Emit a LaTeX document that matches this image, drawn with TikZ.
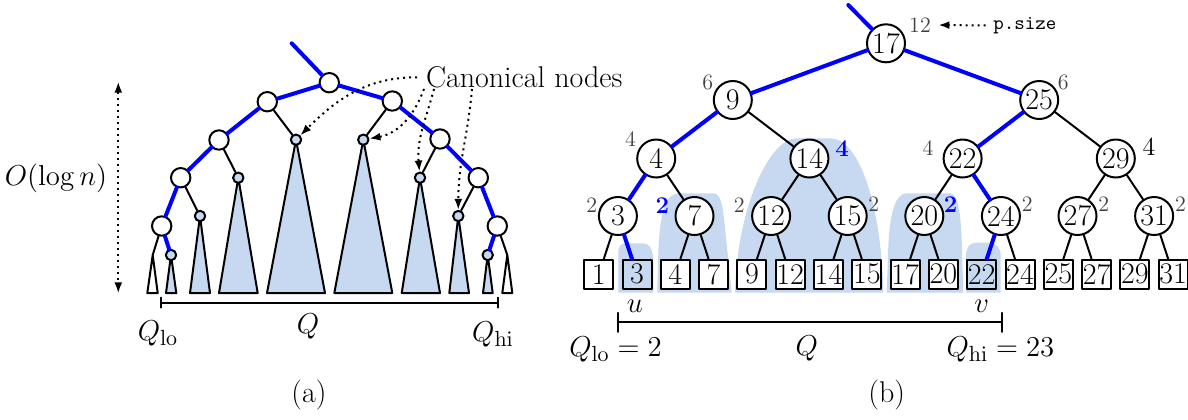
\documentclass[tikz,border=0pt]{standalone}
\usetikzlibrary{arrows.meta}
\definecolor{canonblue}{RGB}{198,217,240}
\begin{document}
\begin{tikzpicture}[x=.5pt,y=-.5pt,line width=1pt,>={Latex[length=5.5pt,width=4pt]},
  line cap=round,line join=round,
  font=\fontsize{15}{18}\selectfont,
  bignode/.style={circle,draw,fill=white,minimum size=9.7pt,inner sep=0pt},
  cannode/.style={circle,draw,fill=canonblue,minimum size=5.2pt,inner sep=0pt},
  subtree/.style={draw,fill=canonblue},
  opentree/.style={draw,fill=white},
  qpath/.style={draw=blue,line width=2pt},
  keynode/.style={circle,draw,fill=white,minimum size=19pt,inner sep=0pt},
  leafnode/.style={draw,fill=white,minimum size=14.5pt,inner sep=0pt},
  sizelbl/.style={text=black!75,font=\fontsize{11}{13}\selectfont},
  sizeq/.style={text=blue,font=\fontsize{12}{14}\selectfont\bfseries},
  pointer/.style={->,dotted,line cap=butt}]
\useasboundingbox (0,0) rectangle (1188,419);
\coordinate (atop) at (291.7,43.3);
\coordinate (awl) at (152.7,255);
\coordinate (awr) at (507.3,255);
\draw[subtree] (296,139.7) -- (267,293) -- (325,293) -- cycle;
\draw[subtree] (363.3,139.7) -- (334.3,293) -- (392.3,293) -- cycle;
\draw[subtree] (238.3,177.7) -- (219,293) -- (257.7,293) -- cycle;
\draw[subtree] (420,177.7) -- (401.7,293) -- (440,293) -- cycle;
\draw[subtree] (200,216) -- (190,293) -- (210,293) -- cycle;
\draw[subtree] (458.3,216) -- (449.3,293) -- (469,293) -- cycle;
\draw[subtree] (171,255) -- (166,293) -- (176.3,293) -- cycle;
\draw[subtree] (487.7,255) -- (483,293) -- (492.7,293) -- cycle;
\draw[opentree] (awl) -- (147.3,293) -- (157.7,293) -- cycle;
\draw[opentree] (awr) -- (502.3,293) -- (512.3,293) -- cycle;
\node[bignode] (aroot) at (329.3,82.7) {};
\node[bignode] (al1) at (267.3,101.7) {};
\node[bignode] (al2) at (219,140) {};
\node[bignode] (al3) at (180.7,177.7) {};
\node[bignode] (al4) at (161.7,226) {};
\node[bignode] (ar1) at (392.3,101) {};
\node[bignode] (ar2) at (440,139) {};
\node[bignode] (ar3) at (478.3,177.7) {};
\node[bignode] (ar4) at (497.3,226) {};
\node[cannode] (ac1) at (296,139.7) {};
\node[cannode] (ac2) at (363.3,139.7) {};
\node[cannode] (ac3) at (238.3,177.7) {};
\node[cannode] (ac4) at (420,177.7) {};
\node[cannode] (ac5) at (200,216) {};
\node[cannode] (ac6) at (458.3,216) {};
\node[cannode] (ac7) at (171,255) {};
\node[cannode] (ac8) at (487.7,255) {};
\draw (al1) -- (ac1);
\draw (ar1) -- (ac2);
\draw (al2) -- (ac3);
\draw (ar2) -- (ac4);
\draw (al3) -- (ac5);
\draw (ar3) -- (ac6);
\draw (al4) -- (awl);
\draw (ar4) -- (awr);
\draw[qpath] (atop) -- (aroot) -- (al1) -- (al2) -- (al3) -- (al4) -- (ac7);
\draw[qpath] (aroot) -- (ar1) -- (ar2) -- (ar3) -- (ar4) -- (ac8);
\node[anchor=base west,inner sep=0pt] (cantext) at (425,87.5) {Canonical nodes};
\draw[pointer] ([xshift=-4pt]cantext.west) to[out=180,in=45] (ac1);
\draw[pointer] ([xshift=-.5pt]cantext.south west) to[out=250,in=10] (ac2);
\draw[pointer] ([xshift=4.5pt]cantext.south west) to[out=255,in=95] (ac4);
\draw[pointer] ([xshift=23.5pt]cantext.south west) to[out=265,in=90] (ac6);
\coordinate (htop) at (118.3,81.7);
\coordinate (hbot) at (118.3,293.3);
\draw[<->,dotted,line cap=butt] (htop) -- (hbot);
\node (logn) at (56,178) {$O(\log n)$};
\coordinate (aqlo) at (161,302.7);
\coordinate (aqhi) at (497.7,302.7);
\draw (aqlo) -- (aqhi);
\draw ([yshift=2.5pt]aqlo) -- ([yshift=-2.5pt]aqlo);
\draw ([yshift=2.5pt]aqhi) -- ([yshift=-2.5pt]aqhi);
\node[anchor=base] (alo) at (158,340) {$Q_{\mathrm{lo}}$};
\node[anchor=base] (aq) at (308,333) {$Q$};
\node[anchor=base] (ahi) at (493,341) {$Q_{\mathrm{hi}}$};
\node (alabel) at (309,395) {(a)};
\begin{scope}[shift={(598.7,0)}]
  \fill[canonblue] (19.6,292.7) -- (19.6,253) .. controls (19.6,246) and (22,243.3) .. (28,243.3)
    -- (44,243.3) .. controls (51,243.3) and (54.6,250) .. (54.6,262) -- (54.6,292.7) -- cycle;
  \fill[canonblue] (58.6,292.7) -- (59.6,253) .. controls (61,215) and (66,193.3) .. (80,193.3)
    -- (114.6,193.3) .. controls (122,193.3) and (124,205) .. (126,225) -- (133,292.7) -- cycle;
  \fill[canonblue] (136.3,292.7) .. controls (138,210) and (170,138.3) .. (198,138.3)
    -- (231.3,138.3) .. controls (262,138.3) and (283,210) .. (284.6,292.7) -- cycle;
  \fill[canonblue] (288,292.7) -- (289.6,246.7) .. controls (291,215) and (296,193.3) .. (308,193.3)
    -- (351.3,193.3) .. controls (359,193.3) and (362,212) .. (363,240) -- (364.6,292.7) -- cycle;
  \fill[canonblue] (367.3,292.7) -- (367.3,256) .. controls (367.3,247) and (371,242.7) .. (378,242.7)
    -- (391,242.7) .. controls (398,242.7) and (402,248) .. (402,257) -- (402,292.7) -- cycle;
  \coordinate (btop) at (249.6,5);
  \node[keynode] (n17) at (287.3,43.3) {17};
  \node[keynode] (n9) at (134.1,100) {9};
  \node[keynode] (n25) at (440.5,100) {25};
  \node[keynode] (n4) at (57.5,158.5) {4};
  \node[keynode] (n14) at (210.7,158.5) {14};
  \node[keynode] (n22) at (363.9,158.5) {22};
  \node[keynode] (n29) at (517.1,158.5) {29};
  \node[keynode] (n3) at (19.2,216) {3};
  \node[keynode] (n7) at (95.8,216) {7};
  \node[keynode] (n12) at (172.4,216) {12};
  \node[keynode] (n15) at (249,216) {15};
  \node[keynode] (n20) at (325.6,216) {20};
  \node[keynode] (n24) at (402.2,216) {24};
  \node[keynode] (n27) at (478.8,216) {27};
  \node[keynode] (n31) at (555.4,216) {31};
  \node[leafnode] (k1) at (0,274.3) {1};
  \node[leafnode,fill=none] (k3) at (38.3,274.3) {3};
  \node[leafnode] (k4) at (76.6,274.3) {4};
  \node[leafnode] (k7) at (114.9,274.3) {7};
  \node[leafnode] (k9) at (153.2,274.3) {9};
  \node[leafnode] (k12) at (191.5,274.3) {12};
  \node[leafnode] (k14) at (229.8,274.3) {14};
  \node[leafnode] (k15) at (268.1,274.3) {15};
  \node[leafnode] (k17) at (306.4,274.3) {17};
  \node[leafnode] (k20) at (344.7,274.3) {20};
  \node[leafnode,fill=none] (k22) at (383,274.3) {22};
  \node[leafnode] (k24) at (421.3,274.3) {24};
  \node[leafnode] (k25) at (459.6,274.3) {25};
  \node[leafnode] (k27) at (497.9,274.3) {27};
  \node[leafnode] (k29) at (536.2,274.3) {29};
  \node[leafnode] (k31) at (574.5,274.3) {31};
  \draw (n9) -- (n14);
  \draw (n25) -- (n29);
  \draw (n4) -- (n7);
  \draw (n14) -- (n12);
  \draw (n14) -- (n15);
  \draw (n22) -- (n20);
  \draw (n29) -- (n27);
  \draw (n29) -- (n31);
  \draw (n3) -- (k1);
  \draw (n7) -- (k4);
  \draw (n7) -- (k7);
  \draw (n12) -- (k9);
  \draw (n12) -- (k12);
  \draw (n15) -- (k14);
  \draw (n15) -- (k15);
  \draw (n20) -- (k17);
  \draw (n20) -- (k20);
  \draw (n24) -- (k24);
  \draw (n27) -- (k25);
  \draw (n27) -- (k27);
  \draw (n31) -- (k29);
  \draw (n31) -- (k31);
  \draw[qpath] (btop) -- (n17) -- (n9) -- (n4) -- (n3) -- (k3);
  \draw[qpath] (n17) -- (n25) -- (n22) -- (n24) -- (k22);
  \node[sizelbl] (s17) at (321.3,25) {12};
  \node[anchor=base west,font=\fontsize{10}{12}\selectfont\ttfamily] (psize) at (387,29.3) {p.size};
  \draw[pointer] (psize.west) -- (s17.east);
  \node[sizelbl] (s9) at (109,82.7) {6};
  \node[sizelbl] (s25) at (464.6,82.7) {6};
  \node[sizelbl] (s4) at (31.8,139) {4};
  \node[sizeq] (s14) at (243.3,148.3) {4};
  \node[sizelbl] (s22) at (329.3,147.8) {4};
  \node[font=\fontsize{13}{15}\selectfont] (s29) at (550.3,147) {4};
  \node[sizelbl] (s3) at (-7,204.7) {2};
  \node[sizeq] (s7) at (63.6,205.3) {2};
  \node[sizelbl] (s12) at (140.5,205) {2};
  \node[sizelbl] (s15) at (275.1,204.5) {2};
  \node[sizeq] (s20) at (351.8,204.2) {2};
  \node[sizelbl] (s24) at (428.6,204.5) {2};
  \node[sizelbl] (s27) at (505.1,204) {2};
  \node[sizelbl] (s31) at (581.8,204) {2};
  \node (u) at (36.3,306) {$u$};
  \node (v) at (383,306) {$v$};
  \coordinate (qlo) at (19,322.3);
  \coordinate (qhi) at (403,322.3);
  \draw (qlo) -- (qhi);
  \draw ([yshift=4.75pt]qlo) -- ([yshift=-4.75pt]qlo);
  \draw ([yshift=4.75pt]qhi) -- ([yshift=-4.75pt]qhi);
  \node[anchor=base] (blo) at (16.8,356.7) {$Q_{\mathrm{lo}}=2$};
  \node[anchor=base] (bq) at (208,355) {$Q$};
  \node[anchor=base] (bhi) at (401.8,356.7) {$Q_{\mathrm{hi}}=23$};
  \node (blabel) at (288,395) {(b)};
\end{scope}
\end{tikzpicture}
\end{document}
